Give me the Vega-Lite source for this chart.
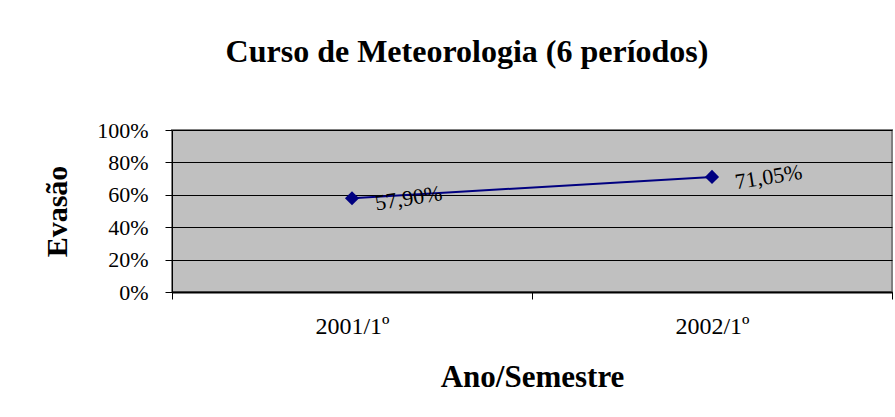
{
  "$schema": "https://vega.github.io/schema/vega-lite/v6.json",
  "autosize": "none",
  "width": 720,
  "height": 162,
  "padding": {"left": 172, "top": 130, "right": 3, "bottom": 125},
  "background": "white",
  "config": {
    "locale": {"number": {"decimal": ",", "thousands": ".", "grouping": [3], "currency": ["R$", ""]}},
    "font": "Liberation Serif",
    "view": {"fill": "#c0c0c0", "stroke": "#808080", "strokeWidth": 2}
  },
  "title": {
    "text": "Curso de Meteorologia (6 períodos)",
    "font": "Liberation Serif",
    "fontSize": 32,
    "fontWeight": "bold",
    "color": "black",
    "anchor": "middle",
    "dx": -65,
    "offset": 50
  },
  "data": {"values": [
    {"periodo": "2001/1º", "evasao": 0.579},
    {"periodo": "2002/1º", "evasao": 0.7105}
  ]},
  "encoding": {
    "x": {
      "field": "periodo", "type": "ordinal",
      "scale": {"type": "band", "paddingInner": 0, "paddingOuter": 0},
      "axis": {
        "title": "Ano/Semestre", "labelAngle": 0, "tickBand": "extent",
        "labelFont": "Liberation Serif", "labelFontSize": 24, "labelColor": "black",
        "labelPadding": 15, "tickSize": 7, "tickColor": "black", "domainColor": "black", "domainWidth": 2,
        "titleFont": "Liberation Serif", "titleFontSize": 31, "titleFontWeight": "bold", "titleColor": "black",
        "titlePadding": 24, "grid": false
      }
    },
    "y": {
      "field": "evasao", "type": "quantitative",
      "scale": {"domain": [0, 1], "nice": false, "zero": true},
      "axis": {
        "title": "Evasão", "format": ".0%", "values": [0, 0.2, 0.4, 0.6, 0.8, 1],
        "labelFont": "Liberation Serif", "labelFontSize": 22, "labelColor": "black",
        "labelPadding": 17, "tickSize": 7, "tickColor": "black", "domainColor": "black",
        "grid": true, "gridColor": "black", "gridOpacity": 1, "gridWidth": 1,
        "titleFont": "Liberation Serif", "titleFontSize": 30, "titleFontWeight": "bold", "titleColor": "black",
        "titlePadding": 24
      }
    }
  },
  "layer": [
    {"mark": {"type": "line", "color": "#000080", "strokeWidth": 2}},
    {"mark": {"type": "point", "shape": "diamond", "filled": true, "color": "#000080", "size": 200, "opacity": 1}},
    {
      "mark": {"type": "text", "align": "left", "baseline": "middle", "angle": -9, "dx": 22, "dy": 9, "fontSize": 22, "color": "black", "font": "Liberation Serif"},
      "encoding": {"text": {"field": "evasao", "type": "quantitative", "format": ".2%"}}
    }
  ]
}
